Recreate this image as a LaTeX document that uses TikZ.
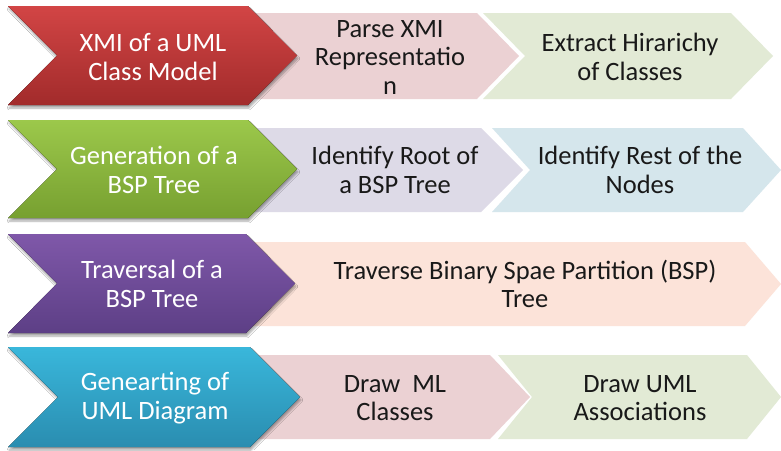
\documentclass[tikz,border=0pt]{standalone}
\usepackage{fontspec}
\setmainfont{Carlito}
\usetikzlibrary{shadows.blur}

\definecolor{redtop}{HTML}{D24545}
\definecolor{redbot}{HTML}{A22B2B}
\definecolor{grntop}{HTML}{9CC84B}
\definecolor{grnbot}{HTML}{77A030}
\definecolor{purtop}{HTML}{7F58A9}
\definecolor{purbot}{HTML}{5D3F86}
\definecolor{blutop}{HTML}{39B7DB}
\definecolor{blubot}{HTML}{2A8DB0}
\definecolor{paleRose}{HTML}{EBD1D3}
\definecolor{paleSage}{HTML}{E2EAD5}
\definecolor{paleLilac}{HTML}{DDDAE7}
\definecolor{paleSky}{HTML}{D5E6EC}
\definecolor{palePeach}{HTML}{FCE3D9}

% chevron: left x, right tip x, top y, bottom y, point depth
\newcommand{\chevpath}[5]{%
  (#1,#3) -- ({#2-#5},#3) -- (#2,{(#3+#4)/2}) -- ({#2-#5},#4) --
  (#1,#4) -- ({#1+#5},{(#3+#4)/2}) -- cycle}

\tikzset{
  bigchev/.style 2 args={top color=#1, bottom color=#2,
    blur shadow={shadow xshift=1pt, shadow yshift=-3pt,
      shadow blur steps=6, shadow opacity=35}},
  bigtext/.style={text=white, font=\fontsize{26.5}{28.5}\selectfont, align=center},
  smalltext/.style={text=black!90, font=\fontsize{26.5}{28.5}\selectfont, align=center}
}

\begin{document}
\begin{tikzpicture}[x=1pt,y=-1pt]
\useasboundingbox (0,0) rectangle (781,450);
\fill[white] (0,0) rectangle (781,450);

% ---- row 1 ----
\fill[paleRose]  \chevpath{240}{519}{13}{99}{42};
\fill[paleSage]  \chevpath{483}{773}{13}{99}{42};
\fill[bigchev={redtop}{redbot}] \chevpath{8}{297}{6}{105}{49};
\node[bigtext]   (xmi)     at (153,57) {XMI of a UML\\Class Model};
\node[smalltext] (parse)   at (390,57) {Parse XMI\\Representatio\\n};
\node[smalltext] (extract) at (630,57) {Extract Hirarichy\\of Classes};

% ---- row 2 ----
\fill[paleLilac] \chevpath{240}{523}{128}{212}{42};
\fill[paleSky]   \chevpath{492}{781}{128}{212}{38};
\fill[bigchev={grntop}{grnbot}] \chevpath{8}{297}{120}{218}{49};
\node[bigtext]   (gen)   at (154,170) {Generation of a\\BSP Tree};
\node[smalltext] (root)  at (395,170) {Identify Root of\\a BSP Tree};
\node[smalltext] (rest)  at (640,170) {Identify Rest of the\\Nodes};

% ---- row 3 ----
\fill[palePeach] \chevpath{240}{781}{242}{326}{36};
\fill[bigchev={purtop}{purbot}] \chevpath{8}{295}{234}{333}{49};
\node[bigtext]   (trav)   at (152,284) {Traversal of a\\BSP Tree};
\node[smalltext] (travbsp) at (525,284) {Traverse Binary Spae Partition (BSP)\\Tree};

% ---- row 4 ----
\fill[paleRose]  \chevpath{240}{530}{355}{439}{40};
\fill[paleSage]  \chevpath{498}{781}{355}{439}{34};
\fill[bigchev={blutop}{blubot}] \chevpath{8}{300}{347}{447}{50};
\node[bigtext]   (genuml)  at (155,398) {Genearting of\\UML Diagram};
\node[smalltext] (classes) at (395,398) {Draw\ \ ML\\Classes};
\node[smalltext] (assoc)   at (640,398) {Draw UML\\Associations};
\end{tikzpicture}
\end{document}
